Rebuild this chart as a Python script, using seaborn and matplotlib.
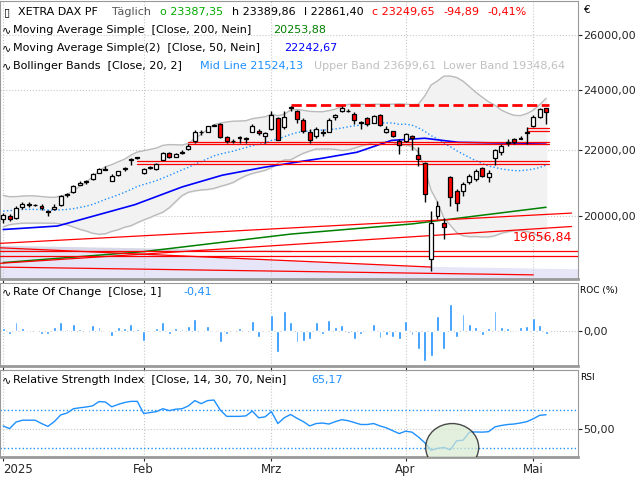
import numpy as np
import pandas as pd
import matplotlib
matplotlib.use('Agg')
import matplotlib.pyplot as plt
from matplotlib.patches import Ellipse
import seaborn as sns

# ---- data ----
prior_closes = [19626, 19934, 20016, 20232, 20359, 20385, 20346, 20329, 20399, 20426,
                20406, 20314, 20246, 20243, 19970, 19885, 19849, 19985, 19909]
opens = [19900, 19990, 19950, 20250, 20330, 20310, 20300, 20140, 20200, 20330,
         20620, 20700, 20930, 21000, 21100, 21300, 21420, 21050, 21240, 21400,
         21700, 21770, 21300, 21450, 21420, 21700, 21930, 21800, 21900, 22040,
         22300, 22600, 22600, 22800, 22850, 22430, 22300, 22420, 22360, 22600,
         22640, 22450, 22700, 23050, 22750, 23400, 23300, 23000, 22600, 22450,
         22600, 22600, 23100, 23300, 23300, 23200, 22900, 23050, 22900, 23150,
         22600, 22620, 22300, 22300, 22450, 21850, 21600, 18800, 20000, 19800,
         21150, 20750, 20750, 21000, 21100, 21450, 21150, 21750, 21950, 22250,
         22350, 22380, 22550, 22800, 23100, 23390]
highs = [20080, 20050, 20280, 20400, 20400, 20360, 20350, 20180, 20340, 20630,
         20690, 20930, 21030, 21080, 21290, 21430, 21520, 21250, 21360, 21470,
         21750, 21800, 21450, 21520, 21600, 21950, 21950, 21920, 22000, 22200,
         22650, 22650, 22800, 22870, 22900, 22450, 22360, 22470, 22420, 22850,
         22700, 22580, 23300, 23100, 23300, 23480, 23320, 23050, 22700, 22750,
         22680, 23050, 23200, 23470, 23350, 23250, 22950, 23100, 23150, 23200,
         22780, 22640, 22350, 22560, 22500, 22100, 21620, 20150, 20450, 19950,
         21200, 20800, 21000, 21250, 21400, 21480, 21380, 22050, 22200, 22350,
         22400, 22450, 22750, 23150, 23400, 23390]
lows = [19800, 19850, 19920, 20210, 20250, 20280, 20180, 20000, 20180, 20300,
        20560, 20690, 20920, 20950, 21080, 21280, 21380, 21050, 21200, 21350,
        21540, 21710, 21250, 21400, 21380, 21680, 21760, 21780, 21880, 22000,
        22250, 22500, 22580, 22790, 22400, 22250, 22220, 22250, 22250, 22580,
        22480, 22250, 22650, 22320, 22700, 23300, 22900, 22550, 22250, 22400,
        22450, 22580, 23000, 23250, 23250, 22850, 22700, 22800, 22880, 22800,
        22550, 22420, 21880, 22280, 22000, 21520, 20400, 18450, 19900, 19350,
        20300, 20150, 20600, 20950, 21050, 21150, 21000, 21550, 21850, 22150,
        22200, 22350, 22200, 22750, 23050, 22860]
closes = [20020, 19910, 20220, 20340, 20330, 20320, 20220, 20130, 20270, 20580,
          20650, 20900, 20990, 21040, 21250, 21410, 21390, 21200, 21340, 21450,
          21720, 21780, 21420, 21460, 21580, 21900, 21790, 21890, 21960, 22150,
          22610, 22580, 22780, 22840, 22430, 22310, 22290, 22390, 22410, 22790,
          22550, 22550, 23150, 22330, 23080, 23420, 23010, 22620, 22330, 22680,
          22570, 23000, 23150, 23380, 23290, 22990, 22890, 22850, 23110, 22840,
          22700, 22460, 22160, 22540, 22390, 21720, 20640, 19790, 20280, 19670,
          20560, 20370, 20950, 21200, 21350, 21200, 21300, 22000, 22150, 22260,
          22260, 22400, 22600, 23100, 23350, 23250]
rsi = [53.5, 50.7, 57.5, 59.5, 59.5, 59.5, 56, 53, 58, 65,
       67, 71.5, 72.5, 73.3, 74.5, 79, 78.5, 73.5, 76, 78,
       79.2, 79.2, 66.4, 67.5, 68.5, 71.5, 69.5, 71, 71.5, 74.4,
       80, 76.8, 80, 80.6, 70, 63.5, 63.5, 63.5, 64, 69,
       62, 63, 68.5, 56, 62, 65.5, 61.5, 58, 53.5, 56,
       56.5, 55.5, 58, 60, 59, 57, 55, 55, 56, 53.5,
       51.5, 48.5, 45.5, 48, 47, 42, 36, 28, 30, 31,
       28.5, 38, 38.5, 47, 47.2, 47, 47.5, 52.5, 54, 55,
       55.5, 56.6, 58, 61, 64.6, 65.2]
ma50_idx = [0, 8.5, 20.6, 28, 34.3, 40.7, 47, 50, 55.4, 60.8, 66, 71.2, 76.6, 81.8, 85]
ma50_val = [19610, 19710, 20330, 20860, 21220, 21460, 21660, 21750, 21940, 22320,
            22390, 22260, 22240, 22230, 22242]
ma200_idx = [0, 22, 45, 64, 85]
ma200_val = [18690, 18990, 19480, 19770, 20254]
# support/resistance lines: (start idx, start price, end idx, end price, style)
level_lines = [
    (21, 21670, 85.5, 21670, '-'), (21, 21580, 85.5, 21580, '-'),
    (29, 22280, 85.5, 22280, '-'), (29, 22200, 85.5, 22200, '-'),
    (45, 23500, 85.5, 23500, '--'),
    (82, 22740, 85.5, 22740, '-'), (82, 22640, 85.5, 22640, '-'),
    (-1, 19215, 89, 20084, '-'), (-1, 18665, 89, 19696, '-'),
    (-1, 19020, 91, 19020, '-'), (-1, 18870, 91, 18870, '-'),
    (-1, 19100, 67, 18570, '-'), (-1, 18570, 83, 18360, '-'),
]
month_pos = [0, 22, 42, 63, 83]
month_labels = ['2025', 'Feb', 'Mrz', 'Apr', 'Mai']
price_ticks = [20000, 22000, 24000, 26000]

# ---- derived ----
n = len(closes)
x = np.arange(n)
all_close = pd.Series(prior_closes + closes)
mid = all_close.rolling(20).mean().iloc[len(prior_closes):].values
sd = all_close.rolling(20).std(ddof=0).iloc[len(prior_closes):].values
upper, lower = mid + 2 * sd, mid - 2 * sd
roc = pd.Series([prior_closes[-1]] + closes).pct_change().iloc[1:].values * 100

sns.set_style('white')
plt.rcParams['font.family'] = 'DejaVu Sans'
fig = plt.figure(figsize=(6.4, 4.8), dpi=100)
W, H = 640, 480
def ax_at(top, bottom):
    return fig.add_axes([0.0, 1 - bottom / H, 578 / W, (bottom - top) / H])
ax = ax_at(1, 279)
ax_roc = ax_at(283, 366)
ax_rsi = ax_at(370, 457)
xl = (-0.5, 90)

# ---- main panel ----
ax.set_yscale('log')
ax.set_ylim(18250, 27330)
ax.set_xlim(*xl)
ax.fill_between([-1, 67, 91], [19100, 18570, 18500], 18000, color='#e6e6f8', zorder=0)
ax.fill_between([-1, 45], [19020, 19020], [19150, 19000], color='#d8d8e8', zorder=0)
ax.fill_between(x, lower, upper, color='#f2f2f2', zorder=1)
sns.lineplot(x=x, y=upper, ax=ax, color='#bbbbbb', lw=1, zorder=2)
sns.lineplot(x=x, y=lower, ax=ax, color='#bbbbbb', lw=1, zorder=2)
sns.lineplot(x=x, y=mid, ax=ax, color='#1e90ff', lw=1, ls=':', zorder=2)
sns.lineplot(x=ma50_idx, y=ma50_val, ax=ax, color='#0000ff', lw=1.2, zorder=3)
sns.lineplot(x=ma200_idx, y=ma200_val, ax=ax, color='#008000', lw=1.1, zorder=3)
for x0, p0, x1, p1, ls in level_lines:
    ax.plot([x0, x1], [p0, p1], color='#ff0000', lw=2 if ls == '--' else 0.9, ls=ls, zorder=3)
ax.text(89, 19560, '19656,84', color='#ff0000', fontsize=9, ha='right', va='top')
for i in range(n):
    ax.vlines(i, lows[i], highs[i], color='black', lw=1, zorder=4)
    o, c = opens[i], closes[i]
    fc = '#ff0000' if c < o else 'white'
    hgt = max(abs(c - o), 20)
    ax.bar(i, hgt, bottom=min(o, c), width=0.62, color=fc, edgecolor='black', lw=0.9, zorder=5)
ax.yaxis.tick_right()
ax.set_yticks(price_ticks)
ax.set_yticklabels([f'{t},00' for t in price_ticks], fontsize=8)
ax.yaxis.set_minor_locator(matplotlib.ticker.NullLocator())
ax.set_xticks(month_pos)
ax.set_xticklabels([])

# ---- ROC ----
ax_roc.bar(x, roc, width=0.45, color='#1e90ff')
ax_roc.set_ylim(-5.8, 8)
ax_roc.set_xlim(*xl)
ax_roc.yaxis.tick_right()
ax_roc.set_yticks([0])
ax_roc.set_yticklabels(['0,00'], fontsize=8)
ax_roc.set_xticks(month_pos)
ax_roc.set_xticklabels([])

# ---- RSI ----
sns.lineplot(x=x, y=rsi, ax=ax_rsi, color='#1e90ff', lw=1)
for lvl in (30, 70):
    ax_rsi.axhline(lvl, color='#1e90ff', lw=1, ls=':')
ax_rsi.add_patch(Ellipse((70.3, 31), 8.3, 50, facecolor='#d8ead0', edgecolor='black',
                         lw=1, alpha=0.7, zorder=3))
ax_rsi.set_ylim(21, 112)
ax_rsi.set_xlim(*xl)
ax_rsi.yaxis.tick_right()
ax_rsi.set_yticks([50])
ax_rsi.set_yticklabels(['50,00'], fontsize=8)
ax_rsi.set_xticks(month_pos)
ax_rsi.set_xticklabels(month_labels, fontsize=8.5)
ax_rsi.get_xticklabels()[0].set_horizontalalignment('left')

for a in (ax, ax_roc, ax_rsi):
    a.grid(True, color='#c8c8c8', ls=':', lw=0.8)
    a.tick_params(axis='y', length=3, pad=1, right=True)
    a.tick_params(axis='x', length=3, pad=1, bottom=True)
    a.set_xlabel('')
    a.set_ylabel('')
    for s in a.spines.values():
        s.set_color('#999999')
    a.spines['bottom'].set_linewidth(2)

# ---- header texts ----
def t(px, py, s, c='black', fs=8):
    fig.text(px / W, 1 - py / H, s, color=c, fontsize=fs, va='center', ha='left')
t(4, 12, '\u25af')
t(18, 12, 'XETRA DAX PF')
t(112, 12, 'Täglich', '#555555')
t(160, 12, 'o 23387,35', '#00aa00')
t(232, 12, 'h 23389,86')
t(304, 12, 'l 22861,40')
t(372, 12, 'c 23249,65', '#ff0000')
t(443, 12, '-94,89', '#ff0000')
t(487, 12, '-0,41%', '#ff0000')
t(2, 30, '\u223f')
t(13, 30, 'Moving Average Simple  [Close, 200, Nein]')
t(273, 30, '20253,88', '#008000')
t(2, 48, '\u223f')
t(13, 48, 'Moving Average Simple(2)  [Close, 50, Nein]')
t(284, 48, '22242,67', '#0000ff')
t(2, 66, '\u223f')
t(13, 66, 'Bollinger Bands  [Close, 20, 2]')
t(200, 66, 'Mid Line 21524,13', '#1e90ff')
t(314, 66, 'Upper Band 23699,61', '#c0c0c0')
t(443, 66, 'Lower Band 19348,64', '#c0c0c0')
t(2, 292, '\u223f')
t(13, 292, 'Rate Of Change  [Close, 1]')
t(183, 292, '-0,41', '#1e90ff')
t(2, 380, '\u223f')
t(13, 380, 'Relative Strength Index  [Close, 14, 30, 70, Nein]')
t(311, 380, '65,17', '#1e90ff')
t(584, 10, '€', fs=7.5)
t(580, 290, 'ROC (%)', fs=6.5)
t(580, 378, 'RSI', fs=6.5)

fig.savefig('out.png', dpi=100)
